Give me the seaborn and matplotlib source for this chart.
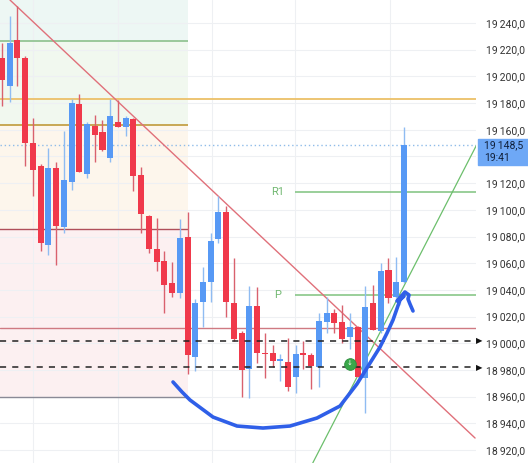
import matplotlib
matplotlib.use('Agg')
import matplotlib.pyplot as plt
from matplotlib.patches import Rectangle
import numpy as np
import pandas as pd
import seaborn as sns

# candles
opens  = [19214, 19193, 19227, 19214, 19150, 19133, 19074, 19131, 19087, 19121,
          19179, 19127, 19163, 19158, 19139, 19166, 19162, 19168, 19126, 19095,
          19071, 19062, 19045, 19038, 19080, 18990, 19031, 19046, 19078, 19098,
          19030, 19008, 18981, 19028, 18993, 18993, 18987, 18986, 18975, 18993,
          18991, 18982, 19016, 19023, 19016, 19005, 19012, 18974, 19030, 19009,
          19055, 19035, 19046]
highs  = [19225, 19245, 19253, 19215, 19169, 19134, 19146, 19136, 19159, 19183,
          19187, 19166, 19171, 19167, 19183, 19182, 19170, 19169, 19132, 19096,
          19094, 19069, 19061, 19093, 19098, 19033, 19057, 19083, 19110, 19103,
          19064, 19009, 19043, 19042, 19008, 18999, 18992, 19004, 18999, 19002,
          18993, 19023, 19035, 19026, 19029, 19023, 19013, 19043, 19044, 19060,
          19064, 19065, 19162]
lows   = [19178, 19181, 19193, 19133, 19110, 19069, 19066, 19059, 19083, 19115,
          19128, 19124, 19136, 19144, 19136, 19162, 19155, 19114, 19083, 19068,
          19054, 19023, 19035, 19034, 18977, 18979, 19012, 19031, 19075, 19020,
          19002, 18960, 18959, 18985, 18974, 18982, 18972, 18964, 18963, 18981,
          18966, 18967, 19008, 19008, 19000, 18996, 18975, 18948, 19010, 19008,
          19030, 19034, 19045]
closes = [19197, 19225, 19214, 19150, 19130, 19075, 19131, 19088, 19122, 19180,
          19128, 19164, 19156, 19145, 19170, 19162, 19169, 19125, 19097, 19071,
          19061, 19044, 19038, 19079, 18991, 19030, 19046, 19077, 19098, 19031,
          19003, 18980, 19028, 18993, 18992, 18987, 18988, 18967, 18992, 18991,
          18983, 19017, 19023, 19015, 19003, 19012, 18975, 19027, 19010, 19054,
          19034, 19046, 19148.5]

last_price = 19148.5
last_time = '19:41'

# horizontal levels
zone_levels = [19257.5, 19226.5, 19163.6, 19085.6, 18959.7]
zone_end = 24.05
yellow_level = 19183.0
red_level = 19011.4
alert_levels = [19002.0, 18982.0]
pivot_names = ['R1', 'P']
pivot_levels = [19113.4, 19036.0]
pivot_start = 37.9

# trend lines (candle index, price)
down_x = [1.03, 61.2]
down_y = [19257.2, 18929.0]
up_x = [40.2, 61.4]
up_y = [18910.3, 19148.6]

# hand drawn arc
arc_x = [22.12, 23.29, 24.32, 27.30, 30.40, 33.76, 37.26, 40.75, 43.73, 45.92,
         47.61, 48.90, 49.81, 50.58, 51.49, 52.01, 51.10, 51.49, 52.13, 52.65,
         52.52, 52.78, 53.17]
arc_y = [18971.0, 18963.5, 18957.5, 18944.7, 18938.0, 18936.5, 18938.0, 18944.0,
         18953.0, 18969.5, 18985.2, 18997.2, 19007.7, 19017.4, 19028.7, 19035.4,
         19031.7, 19036.2, 19038.4, 19036.2, 19033.2, 19029.4, 19024.2]

grid_x = [4.0, 15.0, 27.2, 37.9, 50.2]
yticks = np.arange(18920, 19241, 20)

sns.set_style('white')
plt.rcParams['font.family'] = ['Roboto', 'DejaVu Sans']

df = pd.DataFrame({'o': opens, 'h': highs, 'l': lows, 'c': closes})
df['i'] = np.arange(len(df))
df['up'] = df.c >= df.o

RED = '#f0394b'
BLUE = '#5799f5'

fig = plt.figure(figsize=(5.28, 4.63), dpi=100)
ax = fig.add_axes([0, 0, 476/528, 1])
ax.set_xlim(-0.26, 61.32)
ax.set_ylim(18910.3, 19257.2)

# zones on the left
zone_cols = ['#edf7f4', '#f1f8ef', '#fdf6ec', '#fcf0f1']
for k in range(4):
    ax.fill_between([-1, zone_end], zone_levels[k+1], zone_levels[k], color=zone_cols[k], lw=0, zorder=0)

# grid
for v in yticks:
    ax.axhline(v, color='#eef0f3', lw=0.8, zorder=0.5)
for g in grid_x:
    ax.axvline(g, color='#eef0f3', lw=0.8, zorder=0.5)

# level lines
ax.hlines(zone_levels[1], -1, zone_end, color='#8cc08c', lw=1.2, zorder=1)
ax.hlines(zone_levels[2], -1, zone_end, color='#c09a3a', lw=1.2, zorder=1)
ax.hlines(zone_levels[3], -1, zone_end, color='#b0505a', lw=1.0, zorder=1)
ax.hlines(zone_levels[4], -1, zone_end, color='#8a8a96', lw=1.0, zorder=1)
ax.axhline(yellow_level, color='#ecc068', lw=1.3, zorder=1)
ax.axhline(red_level, color='#cf7a82', lw=1.0, zorder=1)
ax.axhline(last_price, color='#8fbce9', lw=1.0, ls=(0, (1, 2)), zorder=1)
for lv in alert_levels:
    ax.axhline(lv, color='#222222', lw=1.1, ls=(0, (4, 4)), zorder=4)
for name, lv in zip(pivot_names, pivot_levels):
    ax.hlines(lv, pivot_start, 61.32, color='#7fc27f', lw=1.1, zorder=1)
    ax.text(35.6, lv, name, color='#72b872', fontsize=8, ha='center', va='center')
ax.text(35.6, 19263, 'R2', color='#72b872', fontsize=8, ha='center', va='center', clip_on=False)

# trend lines
ax.plot(down_x, down_y, color='#e0707a', lw=1.0, zorder=2)
ax.plot(up_x, up_y, color='#6cbf6c', lw=0.9, zorder=2)

# candles
cols = np.where(df.up, BLUE, RED)
wick_cols = np.where(df.up, '#8fbcf2', '#d9616e')
ax.vlines(df.i, df.l, df.h, colors=wick_cols, lw=1.0, zorder=3)
body = np.maximum((df.c - df.o).abs(), 0.9)
ax.bar(df.i, body, bottom=np.minimum(df.o, df.c), width=0.78, color=cols, lw=0, zorder=3)

# marker + arc
sns.scatterplot(x=[45.0], y=[18984.5], s=70, color='#3aa84a', edgecolor='#2f9140', ax=ax, zorder=6, legend=False)
ax.text(45.0, 18984.5, '↓', color='white', fontsize=5, ha='center', va='center', zorder=7)
sns.lineplot(x=arc_x, y=arc_y, sort=False, color='#2f5fe8', lw=2.6, ax=ax, zorder=8,
             solid_joinstyle='round', solid_capstyle='round')

# price scale on the right
def fmt(v):
    s = f'{v:,.1f}'
    return s.replace(',', '\u2009').replace('.', ',')

ax.yaxis.tick_right()
ax.set_yticks(yticks)
ax.set_yticklabels(['' if v == 19140 else fmt(v) for v in yticks])
ax.tick_params(axis='y', length=0, pad=7, labelsize=7.5, labelcolor='#333333')
ax.set_xticks([])
for sp in ax.spines.values():
    sp.set_visible(False)

y0 = (19257.2 - last_price) / (19257.2 - 18910.3)
fig.patches.append(Rectangle((478/528, 1 - y0 - 20/463), 50/528, 26/463, transform=fig.transFigure,
                             color='#6ea8f6', zorder=10))
fig.text(484/528, 1 - y0, fmt(last_price), fontsize=7.5, color='#10203a', va='center', zorder=11)
fig.text(484/528, 1 - y0 - 13/463, last_time, fontsize=7.5, color='#10203a', va='center', zorder=11)
for lv in alert_levels:
    yy = 1 - (19257.2 - lv) / (19257.2 - 18910.3)
    fig.text(476/528, yy, '▶', fontsize=6, color='#111111', va='center', family='DejaVu Sans')

fig.savefig('out.png', dpi=100)
